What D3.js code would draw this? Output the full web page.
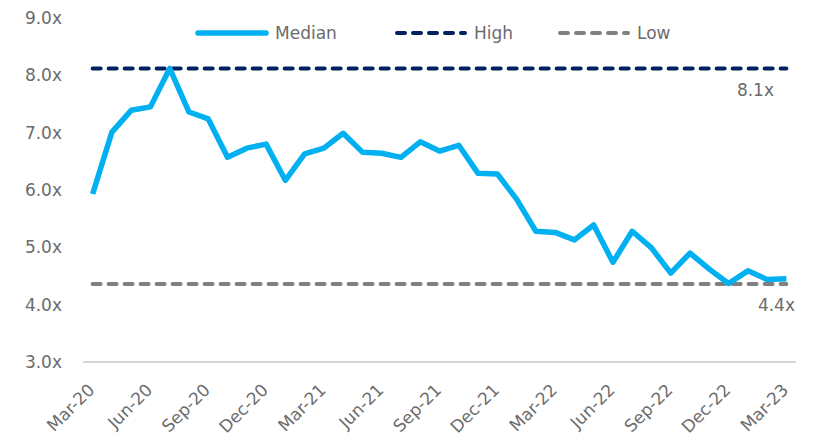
<!DOCTYPE html>
<html>
<head>
<meta charset="utf-8">
<script src="https://cdn.jsdelivr.net/npm/d3@7"></script>
<style>
  body { margin: 0; background: #fff; }
  text { font-family: "Century Gothic", "DejaVu Sans", sans-serif; fill: #6b6b6b; }
</style>
</head>
<body>
<div id="chart"></div>
<script>
var months = ['Mar-20','Apr-20','May-20','Jun-20','Jul-20','Aug-20','Sep-20','Oct-20','Nov-20','Dec-20',
              'Jan-21','Feb-21','Mar-21','Apr-21','May-21','Jun-21','Jul-21','Aug-21','Sep-21','Oct-21','Nov-21','Dec-21',
              'Jan-22','Feb-22','Mar-22','Apr-22','May-22','Jun-22','Jul-22','Aug-22','Sep-22','Oct-22','Nov-22','Dec-22',
              'Jan-23','Feb-23','Mar-23'];
var median = [5.93, 7.01, 7.39, 7.45, 8.12, 7.36, 7.24, 6.57, 6.73, 6.80,
              6.17, 6.63, 6.73, 6.99, 6.66, 6.64, 6.57, 6.84, 6.68, 6.78, 6.29, 6.28,
              5.84, 5.28, 5.26, 5.13, 5.39, 4.74, 5.28, 4.99, 4.55, 4.90, 4.62, 4.37,
              4.59, 4.44, 4.45];
var high = 8.12,
    low = 4.36;
var yTicks = [3, 4, 5, 6, 7, 8, 9];

var width = 815,
    height = 440,
    margin = {top: 18, right: 19, bottom: 78, left: 83};

var svg = d3.select('#chart').append('svg')
    .attr('width', width)
    .attr('height', height);

var x = d3.scalePoint()
    .domain(months)
    .range([margin.left, width - margin.right])
    .padding(0.5);

var y = d3.scaleLinear()
    .domain([3, 9])
    .range([height - margin.bottom, margin.top]);

// y labels
svg.selectAll('.ylab')
    .data(yTicks)
    .enter().append('text')
    .attr('x', 62)
    .attr('y', function (d) { return y(d); })
    .attr('dy', '0.35em')
    .attr('text-anchor', 'end')
    .style('font-size', '17px')
    .text(function (d) { return d.toFixed(1) + 'x'; });

// x axis line
svg.append('line')
    .attr('x1', margin.left).attr('x2', width - margin.right)
    .attr('y1', y(3)).attr('y2', y(3))
    .attr('stroke', '#a9adb8')
    .attr('stroke-width', 1.2);

// x labels every quarter
svg.selectAll('.xlab')
    .data(months.filter(function (d, i) { return i % 3 === 0; }))
    .enter().append('text')
    .attr('text-anchor', 'end')
    .attr('transform', function (d) { return 'translate(' + (x(d) + 3) + ',' + (y(3) + 29) + ') rotate(-45)'; })
    .style('font-size', '17px')
    .text(function (d) { return d; });

var x0 = x(months[0]), x1 = x(months[months.length - 1]);

// high / low lines
svg.append('line')
    .attr('x1', x0).attr('x2', x1)
    .attr('y1', y(high)).attr('y2', y(high))
    .attr('stroke', '#002060').attr('stroke-width', 4)
    .attr('stroke-dasharray', '8,8').attr('stroke-linecap', 'round');

svg.append('line')
    .attr('x1', x0).attr('x2', x1)
    .attr('y1', y(low)).attr('y2', y(low))
    .attr('stroke', '#808080').attr('stroke-width', 4)
    .attr('stroke-dasharray', '8,8').attr('stroke-linecap', 'round');

// median line
var line = d3.line()
    .x(function (d, i) { return x(months[i]); })
    .y(function (d) { return y(d); });

svg.append('path')
    .datum(median)
    .attr('d', line)
    .attr('fill', 'none')
    .attr('stroke', '#00b0f0')
    .attr('stroke-width', 5.5)
    .attr('stroke-linejoin', 'round');

// value labels
svg.append('text')
    .attr('x', 774).attr('y', y(high) + 28)
    .attr('text-anchor', 'end')
    .style('font-size', '17px')
    .text(high.toFixed(1) + 'x');

svg.append('text')
    .attr('x', 795).attr('y', y(low) + 27)
    .attr('text-anchor', 'end')
    .style('font-size', '17px')
    .text(low.toFixed(1) + 'x');

// legend
var legend = [
    {name: 'Median', x: 198, color: '#00b0f0', dash: null, w: 5.5},
    {name: 'High', x: 397, color: '#002060', dash: '8,8', w: 4},
    {name: 'Low', x: 560, color: '#808080', dash: '8,8', w: 4}
];
var lg = svg.selectAll('.leg').data(legend).enter().append('g');
lg.append('line')
    .attr('x1', function (d) { return d.x; })
    .attr('x2', function (d) { return d.x + 68; })
    .attr('y1', 33).attr('y2', 33)
    .attr('stroke', function (d) { return d.color; })
    .attr('stroke-width', function (d) { return d.w; })
    .attr('stroke-dasharray', function (d) { return d.dash; })
    .attr('stroke-linecap', 'round');
lg.append('text')
    .attr('x', function (d) { return d.x + 77; })
    .attr('y', 33)
    .attr('dy', '0.35em')
    .style('font-size', '17px')
    .text(function (d) { return d.name; });
</script>
</body>
</html>
